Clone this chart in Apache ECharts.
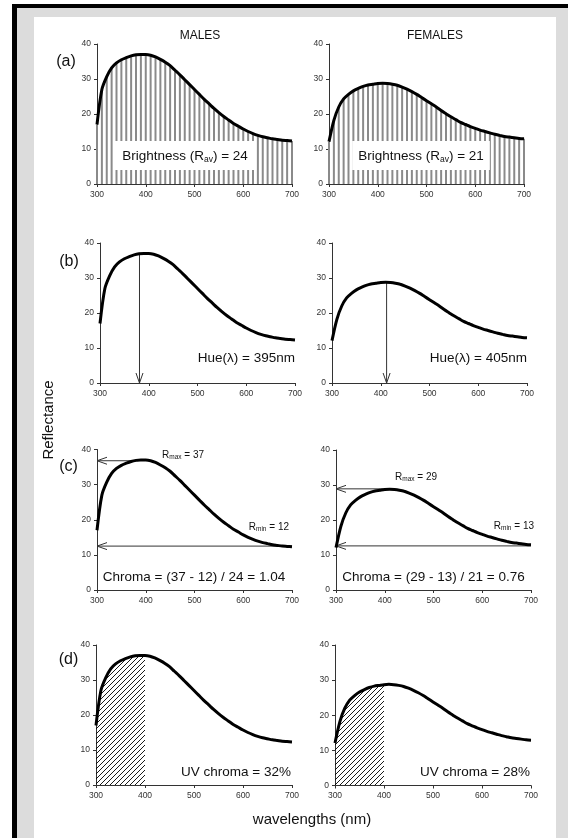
<!DOCTYPE html>
<html><head><meta charset="utf-8">
<script src="https://cdn.jsdelivr.net/npm/echarts@6/dist/echarts.min.js"></script>
<style>
html,body{margin:0;padding:0;background:#fff;width:568px;height:838px;overflow:hidden}
#frame{position:absolute;left:12px;top:4px;width:556px;height:834px;background:#000}
#gray{position:absolute;left:17px;top:8px;width:551px;height:830px;background:#dcdcdc}
#panel{position:absolute;left:34px;top:17px;width:522px;height:821px;background:#fff}
#chart{position:absolute;left:0;top:0;width:568px;height:838px}
</style></head><body>
<div id="frame"></div><div id="gray"></div><div id="panel"></div><div id="chart"></div>
<script>
// ---- data ----
const wavelengths = [300,310,320,330,340,350,360,370,380,390,400,410,420,430,440,450,460,470,480,490,500,
  510,520,530,540,550,560,570,580,590,600,610,620,630,640,650,660,670,680,690,700];
const maleReflectance = [17.0,27.0,30.7,33.2,34.6,35.5,36.1,36.6,36.9,37.0,37.0,36.8,36.3,35.6,34.8,33.8,32.5,31.2,29.8,28.4,27.0,
  25.6,24.2,22.9,21.6,20.4,19.3,18.3,17.3,16.5,15.7,15.0,14.4,13.9,13.5,13.2,12.9,12.7,12.5,12.4,12.3];
const femaleReflectance = [12.1,18.2,22.0,24.3,25.6,26.6,27.3,27.9,28.3,28.5,28.7,28.8,28.7,28.5,28.2,27.7,27.1,26.4,25.6,24.7,23.8,
  22.9,22.0,21.0,20.1,19.2,18.4,17.6,17.0,16.4,15.9,15.4,15.0,14.6,14.2,13.9,13.6,13.4,13.2,13.0,12.9];
const xTickLabels = [300,400,500,600,700];
const yTickLabels = [0,10,20,30,40];
const sexTitles = ['MALES','FEMALES'];
const panelLetters = ['(a)','(b)','(c)','(d)'];
const brightnessValues = [24, 21];
const hueValues = [395, 405];
const hueArrowAt = [381, 412];
const rMaxValues = [37, 29];
const rMinValues = [12, 13];
const rMaxArrowStart = [385, 421];
const rMaxLevels = [36.8, 28.9];
const rMinLevels = [12.5, 12.6];
const chromaValues = ['1.04', '0.76'];
const uvChromaValues = [32, 28];
const uvLimit = 400;

// ---- layout ----
const FONT = 'Liberation Sans, Arial, Helvetica, sans-serif';
const gridRects = [
  {left:97, top:44, width:195, height:140},
  {left:329, top:44, width:195, height:140},
  {left:100, top:243, width:195, height:140},
  {left:332, top:243, width:195, height:140},
  {left:97, top:449.5, width:195, height:140.5},
  {left:336, top:450, width:195, height:140},
  {left:96, top:645, width:196, height:140},
  {left:335, top:645, width:196, height:140.5}
];

const curves = [maleReflectance, femaleReflectance];
const pairs = arr => wavelengths.map((w, i) => [w, arr[i]]);

function hatchCanvas(){
  const s = 5; const c = document.createElement('canvas'); c.width = s; c.height = s;
  const ctx = c.getContext('2d'); ctx.strokeStyle = '#000'; ctx.lineWidth = 0.9;
  ctx.beginPath();
  ctx.moveTo(0, s); ctx.lineTo(s, 0);
  ctx.moveTo(-1, 1); ctx.lineTo(1, -1);
  ctx.moveTo(s-1, s+1); ctx.lineTo(s+1, s-1);
  ctx.stroke(); return c;
}
const hatch = hatchCanvas();

function arrowRender(params, api){
  const p1 = api.coord([api.value(0), api.value(1)]);
  const p2 = api.coord([api.value(2), api.value(3)]);
  const dx = p2[0]-p1[0], dy = p2[1]-p1[1];
  const len = Math.hypot(dx, dy) || 1; const ux = dx/len, uy = dy/len;
  const L = 10, W = 3.5;
  const bx = p2[0]-ux*L, by = p2[1]-uy*L; const nx = -uy, ny = ux;
  const style = {stroke:'#333', lineWidth:1, fill:null};
  return {type:'group', children:[
    {type:'line', shape:{x1:p1[0], y1:p1[1], x2:p2[0], y2:p2[1]}, style},
    {type:'polyline', shape:{points:[[bx+nx*W, by+ny*W],[p2[0], p2[1]],[bx-nx*W, by-ny*W]]}, style}
  ]};
}

const axisLineStyle = {color:'#333', width:1};
const grid = gridRects.map(r => Object.assign({outerBoundsMode:'none', containLabel:false}, r));
const xAxis = gridRects.map((r, i) => ({
  type:'value', gridIndex:i, min:xTickLabels[0], max:xTickLabels[xTickLabels.length-1], interval:100,
  axisLine:{show:true, onZero:false, lineStyle:axisLineStyle},
  axisTick:{show:true, length:3, lineStyle:axisLineStyle},
  axisLabel:{fontSize:8.5, color:'#333', margin:6, fontFamily:FONT},
  splitLine:{show:false}
}));
const yAxis = gridRects.map((r, i) => ({
  type:'value', gridIndex:i, min:yTickLabels[0], max:yTickLabels[yTickLabels.length-1], interval:10,
  axisLine:{show:true, onZero:false, lineStyle:axisLineStyle},
  axisTick:{show:true, length:3, lineStyle:axisLineStyle},
  axisLabel:{fontSize:8.5, color:'#333', margin:6, fontFamily:FONT},
  splitLine:{show:false}
}));

const series = [];
const curveLine = (g, s) => ({
  type:'line', xAxisIndex:g, yAxisIndex:g, data:pairs(curves[s]), smooth:0.3,
  showSymbol:false, symbol:'none', lineStyle:{color:'#000', width:3}, z:5, silent:true
});
for (let s = 0; s < 2; s++){
  // (a) brightness bars
  let g = s;
  series.push({type:'bar', xAxisIndex:g, yAxisIndex:g, data:pairs(curves[s]), barWidth:2,
    itemStyle:{color:'#8a8a8a'}, z:2, silent:true});
  series.push(curveLine(g, s));
  // (b) hue
  g = 2 + s;
  series.push(curveLine(g, s));
  const hx = hueArrowAt[s];
  const hy = curves[s][wavelengths.indexOf(Math.round(hx/10)*10)];
  series.push({type:'custom', xAxisIndex:g, yAxisIndex:g, renderItem:arrowRender, clip:false,
    encode:{x:[0,2], y:[1,3]}, data:[[hx, hy, hx, 0]], z:4, silent:true});
  // (c) chroma
  g = 4 + s;
  series.push(curveLine(g, s));
  series.push({type:'custom', xAxisIndex:g, yAxisIndex:g, renderItem:arrowRender, clip:false,
    encode:{x:[0,2], y:[1,3]},
    data:[[rMaxArrowStart[s], rMaxLevels[s], xTickLabels[0], rMaxLevels[s]],
          [xTickLabels[4], rMinLevels[s], xTickLabels[0], rMinLevels[s]]], z:4, silent:true});
  // (d) UV chroma
  g = 6 + s;
  series.push({type:'line', xAxisIndex:g, yAxisIndex:g,
    data:pairs(curves[s]).filter(p => p[0] <= uvLimit), smooth:0.3, showSymbol:false, symbol:'none',
    lineStyle:{width:0, opacity:0}, areaStyle:{color:{image:hatch, repeat:'repeat'}, opacity:1}, z:2, silent:true});
  series.push(curveLine(g, s));
}

// ---- texts ----
function T(x, y, text, size, styleExtra, elExtra){
  const style = Object.assign({text:text, fontSize:size, fontFamily:FONT, fill:'#111', align:'center', verticalAlign:'middle'}, styleExtra || {});
  return Object.assign({type:'text', x:x, y:y, z:100, silent:true, style:style}, elExtra || {});
}
function subText(main1, sub, main2, size, subSize, subPad){
  return {
    text:'{a|' + main1 + '}{s|' + sub + '}{a|' + main2 + '}',
    rich:{a:{fontSize:size, fontFamily:FONT, fill:'#111', color:'#111'},
          s:{fontSize:subSize, fontFamily:FONT, fill:'#111', color:'#111', padding:[subPad,0,0,0]}}
  };
}
const graphics = [
  T(200, 36, sexTitles[0], 12), T(435, 36, sexTitles[1], 12),
  T(66, 62, panelLetters[0], 16), T(69, 262, panelLetters[1], 16),
  T(68.5, 467, panelLetters[2], 16), T(68.5, 660, panelLetters[3], 16),
  T(49, 420, 'Reflectance', 15, null, {rotation:Math.PI/2}),
  T(312, 820, 'wavelengths (nm)', 15),
  // brightness
  T(185, 155.5, '', 13.5, Object.assign(subText('Brightness (R','av',') = ' + brightnessValues[0], 13.5, 8.5, 7),
      {backgroundColor:'#fff', padding:[7,8,6,8]})),
  T(421, 155.5, '', 13.5, Object.assign(subText('Brightness (R','av',') = ' + brightnessValues[1], 13.5, 8.5, 7),
      {backgroundColor:'#fff', padding:[7,6,6,6]})),
  // hue
  T(295, 358, 'Hue(\u03bb) = ' + hueValues[0] + 'nm', 13.5, {align:'right'}),
  T(527, 358, 'Hue(\u03bb) = ' + hueValues[1] + 'nm', 13.5, {align:'right'}),
  // chroma
  T(162, 455, '', 10, Object.assign(subText('R','max',' = ' + rMaxValues[0], 10, 6.5, 5), {align:'left'})),
  T(289, 527, '', 10, Object.assign(subText('R','min',' = ' + rMinValues[0], 10, 6.5, 5), {align:'right'})),
  T(395, 477, '', 10, Object.assign(subText('R','max',' = ' + rMaxValues[1], 10, 6.5, 5), {align:'left'})),
  T(534, 526, '', 10, Object.assign(subText('R','min',' = ' + rMinValues[1], 10, 6.5, 5), {align:'right'})),
  T(194, 577, 'Chroma = (' + rMaxValues[0] + ' - ' + rMinValues[0] + ') / ' + brightnessValues[0] + ' = ' + chromaValues[0], 13.5),
  T(433.5, 577, 'Chroma = (' + rMaxValues[1] + ' - ' + rMinValues[1] + ') / ' + brightnessValues[1] + ' = ' + chromaValues[1], 13.5),
  // UV
  T(291, 772, 'UV chroma = ' + uvChromaValues[0] + '%', 13.5, {align:'right'}),
  T(530, 772, 'UV chroma = ' + uvChromaValues[1] + '%', 13.5, {align:'right'})
];

const chart = echarts.init(document.getElementById('chart'), null, {renderer:'canvas'});
chart.setOption({
  animation:false,
  backgroundColor:'transparent',
  grid, xAxis, yAxis, series,
  graphic:{elements:graphics}
});
</script></body></html>
